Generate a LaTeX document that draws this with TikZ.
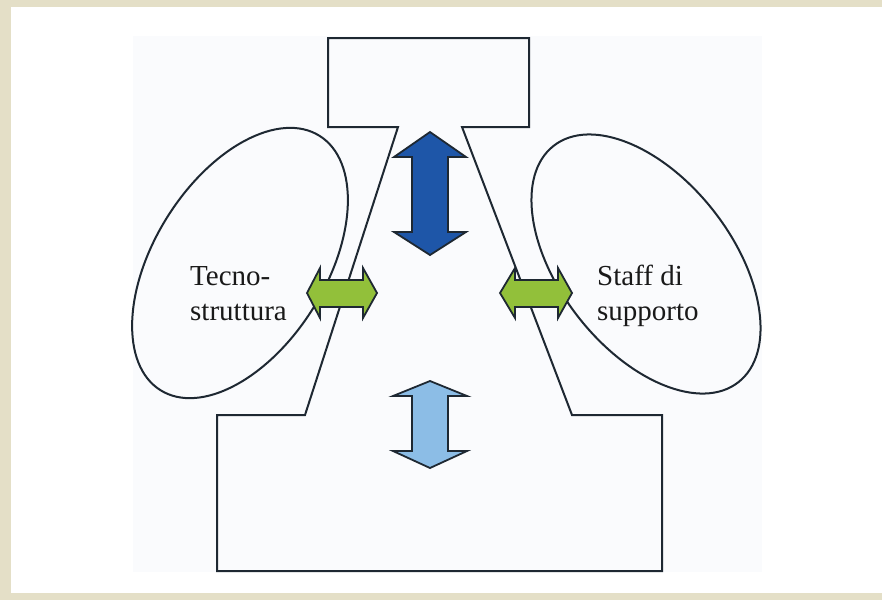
\documentclass[tikz,border=0pt]{standalone}
\usepackage{fontspec}
\setmainfont{Liberation Serif}
\usetikzlibrary{shapes.geometric}
\definecolor{framebeige}{RGB}{228,223,199}
\definecolor{panelpale}{RGB}{250,251,253}
\definecolor{outline}{RGB}{30,40,50}
\definecolor{darkblue}{RGB}{30,86,168}
\definecolor{lightblue}{RGB}{140,189,230}
\definecolor{leafgreen}{RGB}{146,192,58}
\tikzset{
  part/.style={draw=outline, line width=2pt, line join=miter},
  staffunit/.style={ellipse, draw=outline, line width=2pt, inner sep=0pt, minimum width=172pt, minimum height=300pt},
  unitlabel/.style={align=left, inner sep=0pt, anchor=north west, font=\fontsize{29}{35}\selectfont, text=black!90},
  block/.style={draw=outline, line width=1.8pt, line join=miter}
}
\begin{document}
\begin{tikzpicture}[x=1pt, y=-1pt]
  \useasboundingbox (0,0) rectangle (882,600);
  % frame and panel
  \fill[framebeige] (0,0) rectangle (882,600);
  \fill[white] (11,7) rectangle (882,593);
  \fill[panelpale] (133,36) rectangle (762,572);

  % support units
  \node[staffunit, rotate=-32] (tecno) at (240,263) {};
  \node[staffunit, rotate=38] (staff) at (646,264) {};

  % apex, middle line and operating core
  \draw[part] (328,38) -- (529,38) -- (529,127) -- (462,127) -- (572,415)
    -- (662,415) -- (662,571) -- (217,571) -- (217,415) -- (305,415)
    -- (398,127) -- (328,127) -- cycle;

  % vertical arrows
  \draw[block, fill=darkblue] (430,132) -- (466,157) -- (448,157) -- (448,232)
    -- (466,232) -- (430,255) -- (394,232) -- (412,232) -- (412,157)
    -- (394,157) -- cycle;
  \draw[block, fill=lightblue] (430,381) -- (467,396) -- (448,396) -- (448,451)
    -- (467,451) -- (430,468) -- (393,451) -- (412,451) -- (412,396)
    -- (393,396) -- cycle;

  % horizontal arrows
  \draw[block, fill=leafgreen] (307,293) -- (320,268) -- (320,280) -- (363,280)
    -- (363,268) -- (377,293) -- (363,318) -- (363,307) -- (320,307)
    -- (320,318) -- cycle;
  \draw[block, fill=leafgreen] (500,293) -- (515,268) -- (515,280) -- (558,280)
    -- (558,268) -- (572,293) -- (558,318) -- (558,307) -- (515,307)
    -- (515,318) -- cycle;

  % labels
  \node[unitlabel] (tecnolabel) at (190,266) {Tecno-\\struttura};
  \node[unitlabel] (stafflabel) at (597,265) {Staff di\\supporto};
\end{tikzpicture}
\end{document}
